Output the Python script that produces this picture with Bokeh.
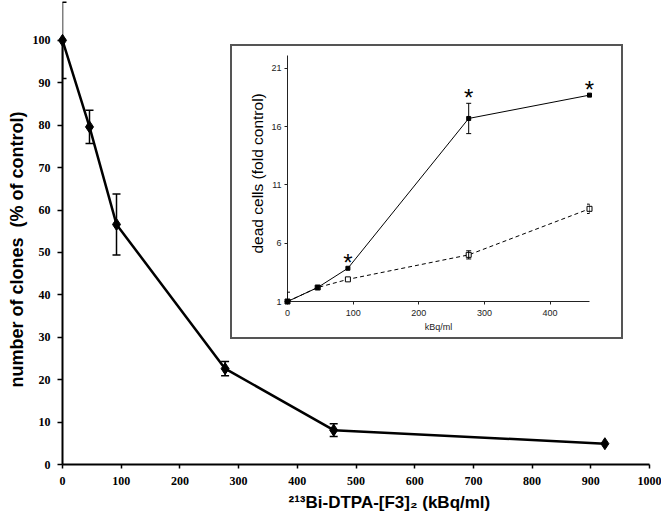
from bokeh.plotting import figure
from bokeh.models import Range1d, Whisker, ColumnDataSource, GridBox, TeeHead, FixedTicker, Title
from bokeh.embed import file_html
from bokeh.resources import INLINE
from bokeh.core.properties import value

# ---- main chart data ----
dose = [0, 46, 92, 277, 462, 924]
clones = [100, 79.6, 56.6, 22.6, 8.1, 4.9]
clones_err = [9.0, 3.9, 7.2, 1.7, 1.5, 0.0]
main_xticks = [0, 100, 200, 300, 400, 500, 600, 700, 800, 900, 1000]
main_yticks = [0, 10, 20, 30, 40, 50, 60, 70, 80, 90, 100]
main_xlabel = "²¹³Bi-DTPA-[F3]₂ (kBq/ml)"
main_ylabel = "number of clones\u00a0 (% of control)"

# ---- inset data ----
inset_dose = [0, 46, 92, 276, 460]
dead_a = [1.0, 2.2, 3.85, 16.7, 18.7]
dead_a_err = [0.8, 0.0, 0.0, 1.3, 0.0]
dead_b = [1.0, 2.2, 2.9, 5.0, 8.95]
dead_b_err = [0.0, 0.0, 0.0, 0.35, 0.4]
signif = [False, False, True, True, True]
inset_xticks = [0, 100, 200, 300, 400]
inset_yticks = [1, 6, 11, 16, 21]
inset_xlabel = "kBq/ml"
inset_ylabel = "dead cells (fold control)"

BOLD_NARROW = "Liberation Sans Narrow"
SANS = "Liberation Sans"

# ================= main figure =================
p = figure(width=661, height=522, x_range=Range1d(0, 1000), y_range=Range1d(0, 109.4),
           output_backend="svg", toolbar_location=None,
           min_border_left=62, min_border_right=12, min_border_top=0, min_border_bottom=58)
p.grid.visible = False
p.outline_line_color = None
p.background_fill_color = "white"
p.border_fill_color = "white"

for ax in (p.xaxis[0], p.yaxis[0]):
    ax.axis_line_width = 2
    ax.axis_line_color = "black"
    ax.major_tick_line_width = 1.5
    ax.major_tick_in = 0
    ax.minor_tick_line_color = None
    ax.major_label_text_font = BOLD_NARROW
    ax.major_label_text_font_style = "bold"
    ax.major_label_text_font_size = "12px"
    ax.major_label_text_color = "black"

p.xaxis[0].ticker = FixedTicker(ticks=main_xticks)
p.yaxis[0].ticker = FixedTicker(ticks=main_yticks)
p.xaxis[0].bounds = (0, 1000)
p.yaxis[0].bounds = (0, 100)
p.xaxis[0].major_tick_out = 4
p.xaxis[0].major_label_standoff = 8
p.yaxis[0].major_tick_out = 5
p.yaxis[0].major_label_standoff = 7

p.add_layout(Title(text=main_xlabel, align="left", offset=226, standoff=7,
                   text_font=SANS, text_font_style="bold", text_font_size="17px",
                   text_color="black"), "below")
p.add_layout(Title(text=main_ylabel, align="left", offset=77, standoff=5,
                   text_font=SANS, text_font_style="bold", text_font_size="18px",
                   text_color="black"), "left")

ms = ColumnDataSource(dict(
    x=[d for d, e in zip(dose, clones_err) if e > 0],
    upper=[c + e for c, e in zip(clones, clones_err) if e > 0],
    lower=[c - e for c, e in zip(clones, clones_err) if e > 0],
))
p.add_layout(Whisker(source=ms, base="x", upper="upper", lower="lower",
                     line_width=1.5, line_color="black",
                     upper_head=TeeHead(size=8, line_width=1.5, line_color="black"),
                     lower_head=TeeHead(size=8, line_width=1.5, line_color="black")))
p.line(dose, clones, line_width=2.5, line_color="black", level="overlay")
p.scatter(dose, clones, marker="diamond", size=12, fill_color="black", line_color="black",
          level="overlay")

# ================= inset figure =================
q = figure(width=393, height=295, x_range=Range1d(0, 460), y_range=Range1d(1, 22.1),
           output_backend="svg", toolbar_location=None,
           min_border_left=55, min_border_right=36, min_border_top=9, min_border_bottom=40,
           styles={"border": "2px solid #555555"})
q.grid.visible = False
q.outline_line_color = None
q.background_fill_color = "white"
q.border_fill_color = "white"

for ax in (q.xaxis[0], q.yaxis[0]):
    ax.axis_line_width = 1
    ax.axis_line_color = "#222222"
    ax.major_tick_line_color = "#222222"
    ax.major_tick_out = 3
    ax.major_tick_in = 0
    ax.minor_tick_line_color = None
    ax.major_label_text_font = SANS
    ax.major_label_text_font_size = "9px"
    ax.major_label_text_color = "#222222"

q.xaxis[0].ticker = FixedTicker(ticks=inset_xticks)
q.yaxis[0].ticker = FixedTicker(ticks=inset_yticks)
q.xaxis[0].major_label_standoff = 5
q.yaxis[0].major_label_standoff = 3
q.xaxis[0].axis_label = inset_xlabel
q.xaxis[0].axis_label_text_font = SANS
q.xaxis[0].axis_label_text_font_style = "normal"
q.xaxis[0].axis_label_text_font_size = "9px"
q.xaxis[0].axis_label_text_color = "#222222"
q.xaxis[0].axis_label_standoff = 3

q.add_layout(Title(text=inset_ylabel, align="left", offset=48, standoff=5,
                   text_font=SANS, text_font_style="normal", text_font_size="15.5px",
                   text_color="black"), "left")

for ys, es in ((dead_a, dead_a_err), (dead_b, dead_b_err)):
    src = ColumnDataSource(dict(
        x=[d for d, e in zip(inset_dose, es) if e > 0],
        upper=[v + e for v, e in zip(ys, es) if e > 0],
        lower=[v - e for v, e in zip(ys, es) if e > 0],
    ))
    q.add_layout(Whisker(source=src, base="x", upper="upper", lower="lower",
                         line_width=1, line_color="black", level="overlay",
                         upper_head=TeeHead(size=5, line_width=1, line_color="black"),
                         lower_head=TeeHead(size=5, line_width=1, line_color="black")))

q.line(inset_dose, dead_b, line_width=1, line_color="black", line_dash="4 3", level="overlay")
q.scatter(inset_dose, dead_b, marker="square", size=5, fill_color="white", line_color="black",
          line_width=1, level="overlay")
q.line(inset_dose, dead_a, line_width=1, line_color="black", level="overlay")
q.scatter(inset_dose, dead_a, marker="square", size=4, fill_color="black", line_color="black",
          level="overlay")

star_x = [d for d, s in zip(inset_dose, signif) if s]
star_y = [v + e for v, e, s in zip(dead_a, dead_a_err, signif) if s]
q.text(star_x, star_y, text=["*"] * len(star_x), text_font=value(SANS),
       text_font_size="24px", text_align="center", text_baseline="alphabetic",
       text_color="black", y_offset=-6, level="overlay")

layout = GridBox(children=[(p, 0, 0, 3, 3), (q, 1, 1, 1, 1)],
                 rows=["44px", "295px", "183px"], cols=["230px", "393px", "38px"],
                 spacing=0)

open("out.html", "w").write(file_html(layout, INLINE))
